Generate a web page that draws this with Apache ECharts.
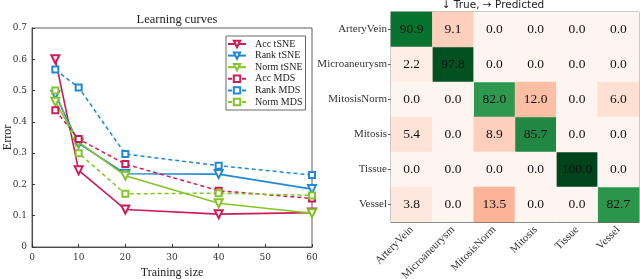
<!DOCTYPE html>
<html><head><meta charset="utf-8">
<script src="https://cdn.jsdelivr.net/npm/echarts@6/dist/echarts.min.js"></script>
<style>html,body{margin:0;padding:0;background:#fff}#c{width:640px;height:279px}</style>
</head><body><div id="c"></div>
<script>
var trainSizes = [5, 10, 20, 40, 60];
var accTSNE  = [0.600, 0.245, 0.120, 0.105, 0.110];
var rankTSNE = [0.487, 0.331, 0.234, 0.233, 0.185];
var normTSNE = [0.464, 0.335, 0.228, 0.140, 0.108];
var accMDS   = [0.437, 0.345, 0.265, 0.180, 0.155];
var rankMDS  = [0.567, 0.510, 0.297, 0.260, 0.230];
var normMDS  = [0.500, 0.300, 0.170, 0.172, 0.165];
var classes = ['ArteryVein', 'Microaneurysm', 'MitosisNorm', 'Mitosis', 'Tissue', 'Vessel'];
var confusion = [
  [90.9, 9.1, 0.0, 0.0, 0.0, 0.0],
  [2.2, 97.8, 0.0, 0.0, 0.0, 0.0],
  [0.0, 0.0, 82.0, 12.0, 0.0, 6.0],
  [5.4, 0.0, 8.9, 85.7, 0.0, 0.0],
  [0.0, 0.0, 0.0, 0.0, 100.0, 0.0],
  [3.8, 0.0, 13.5, 0.0, 0.0, 82.7]
];

var SERIF = '"DejaVu Serif", "Liberation Serif", serif';
var TIMES = '"Liberation Serif", serif';
var C_ACC = '#cc1c58', C_RANK = '#1f8ad2', C_NORM = '#84c42a';

function pairs(v) { return trainSizes.map(function (x, i) { return [x, v[i]]; }); }

var diag = [], off = [];
confusion.forEach(function (row, r) {
  row.forEach(function (v, c) {
    var item = [c, r, v];
    if (r === c) diag.push(item); else off.push(item);
  });
});

function lineSeries(name, data, color, dashed) {
  return {
    name: name, type: 'line', xAxisIndex: 0, yAxisIndex: 0,
    data: pairs(data),
    symbol: dashed ? 'emptyRect' : 'emptyTriangle',
    symbolRotate: dashed ? 0 : 180,
    symbolSize: dashed ? 6 : 8,
    itemStyle: { color: color, borderWidth: 1.2 },
    lineStyle: { color: color, width: dashed ? 1.5 : 1.6, type: dashed ? [4, 3] : 'solid' },
    emphasis: { disabled: true }, animation: false, z: 3
  };
}

var cellLabel = {
  show: true, fontFamily: TIMES, fontSize: 13.5, color: '#111',
  formatter: function (p) { return p.value[2].toFixed(1); }
};

var chart = echarts.init(document.getElementById('c'), null, { renderer: 'canvas' });
chart.setOption({
  backgroundColor: '#fff',
  animation: false,
  title: [
    { text: 'Learning curves', left: 172, top: 8, textAlign: 'center',
      textStyle: { fontFamily: TIMES, fontSize: 12.5, fontWeight: 'normal', color: '#222' } },
    { text: '\u2193 True, \u2192 Predicted', left: 488, top: -5, textAlign: 'center',
      textStyle: { fontFamily: '"DejaVu Sans", sans-serif', fontSize: 10.5, fontWeight: 'normal', color: '#222' } }
  ],
  legend: {
    data: ['Acc tSNE', 'Rank tSNE', 'Norm tSNE', 'Acc MDS', 'Rank MDS', 'Norm MDS'],
    orient: 'vertical', left: 226, top: 36,
    itemWidth: 18, itemHeight: 8, itemGap: 1.6,
    padding: [3, 3, 3, 1],
    backgroundColor: '#fff', borderColor: '#444', borderWidth: 0.8, borderRadius: 0,
    textStyle: { fontFamily: TIMES, fontSize: 10, lineHeight: 9, color: '#222', padding: [0, 0, 0, 4] },
    selectedMode: false
  },
  grid: [
    { left: 32, right: 328, top: 28, bottom: 32, outerBoundsMode: 'none', containLabel: false,
      show: true, borderColor: '#333', borderWidth: 0.8, backgroundColor: 'transparent' },
    { left: 391, right: 1, top: 12, bottom: 57, outerBoundsMode: 'none', containLabel: false,
      show: true, borderColor: '#555', borderWidth: 0.8, backgroundColor: 'transparent' }
  ],
  xAxis: [
    { type: 'value', gridIndex: 0, min: 0, max: 60, interval: 10,
      name: 'Training size', nameLocation: 'middle', nameGap: 20, nameMoveOverlap: false,
      nameTextStyle: { fontFamily: TIMES, fontSize: 12, color: '#222' },
      axisLine: { show: true, lineStyle: { color: '#333', width: 0.8 } },
      axisTick: { show: true, inside: true, length: 3, lineStyle: { color: '#333' } },
      axisLabel: { fontFamily: SERIF, fontSize: 9, color: '#333', margin: 6 },
      splitLine: { show: false } },
    { type: 'category', gridIndex: 1, data: classes,
      axisLine: { show: true, lineStyle: { color: '#555', width: 0.8 } },
      axisTick: { show: true, inside: true, alignWithLabel: true, length: 3, lineStyle: { color: '#555' } },
      axisLabel: { rotate: 45, fontFamily: TIMES, fontSize: 11, color: '#333', margin: 6, interval: 0 },
      splitLine: { show: false } }
  ],
  yAxis: [
    { type: 'value', gridIndex: 0, min: 0, max: 0.7, interval: 0.1,
      name: 'Error', nameLocation: 'middle', nameGap: 18, nameMoveOverlap: false,
      nameTextStyle: { fontFamily: TIMES, fontSize: 12, color: '#222' },
      axisLine: { show: true, lineStyle: { color: '#333', width: 0.8 } },
      axisTick: { show: true, inside: true, length: 3, lineStyle: { color: '#333' } },
      axisLabel: { fontFamily: SERIF, fontSize: 9, color: '#333', margin: 5,
        formatter: function (v) { return v === 0 ? '0' : v.toFixed(1); } },
      splitLine: { show: false } },
    { type: 'category', gridIndex: 1, data: classes, inverse: true,
      axisLine: { show: true, lineStyle: { color: '#555', width: 0.8 } },
      axisTick: { show: true, inside: false, alignWithLabel: true, length: 3, lineStyle: { color: '#555' } },
      axisLabel: { fontFamily: TIMES, fontSize: 11, color: '#333', margin: 4, interval: 0 },
      splitLine: { show: false } }
  ],
  visualMap: [
    { type: 'continuous', seriesIndex: 6, show: false, min: 40, max: 100, dimension: 2,
      inRange: { color: ['#f7fcf5', '#e5f5e0', '#c7e9c0', '#a1d99b', '#74c476', '#41ab5d', '#238b45', '#006d2c', '#00441b'] } },
    { type: 'continuous', seriesIndex: 7, show: false, min: 0, max: 50, dimension: 2,
      inRange: { color: ['#fff5f0', '#fee0d2', '#fcbba1', '#fc9272', '#fb6a4a', '#ef3b2c', '#cb181d', '#a50f15', '#67000d'] } }
  ],
  series: [
    lineSeries('Acc tSNE', accTSNE, C_ACC, false),
    lineSeries('Rank tSNE', rankTSNE, C_RANK, false),
    lineSeries('Norm tSNE', normTSNE, C_NORM, false),
    lineSeries('Acc MDS', accMDS, C_ACC, true),
    lineSeries('Rank MDS', rankMDS, C_RANK, true),
    lineSeries('Norm MDS', normMDS, C_NORM, true),
    { type: 'heatmap', xAxisIndex: 1, yAxisIndex: 1, data: diag, label: cellLabel, emphasis: { disabled: true } },
    { type: 'heatmap', xAxisIndex: 1, yAxisIndex: 1, data: off, label: cellLabel, emphasis: { disabled: true } }
  ]
});
</script></body></html>
